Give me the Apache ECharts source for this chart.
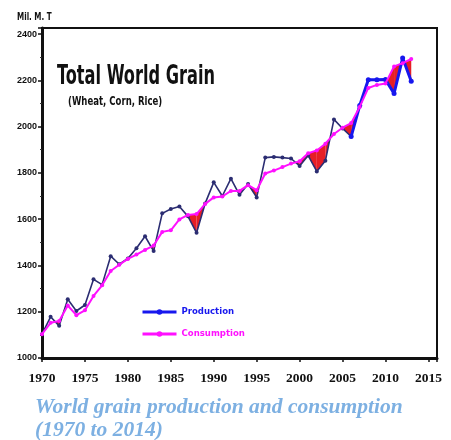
<!DOCTYPE html>
<html>
<head>
<meta charset="utf-8">
<script src="https://cdn.jsdelivr.net/npm/echarts@6/dist/echarts.min.js"></script>
<style>
html,body{margin:0;padding:0;background:#fff;}
#chart{width:451px;height:440px;}
</style>
</head>
<body>
<div id="chart"></div>
<script>
const years = [1970,1971,1972,1973,1974,1975,1976,1977,1978,1979,1980,1981,1982,1983,1984,1985,1986,1987,1988,1989,1990,1991,1992,1993,1994,1995,1996,1997,1998,1999,2000,2001,2002,2003,2004,2005,2006,2007,2008,2009,2010,2011,2012,2013];
const production = [1103,1178,1139,1254,1203,1229,1340,1317,1440,1405,1430,1474,1526,1462,1625,1644,1655,1612,1541,1668,1759,1700,1775,1705,1752,1694,1866,1869,1866,1862,1830,1875,1806,1852,2031,1992,1957,2091,2202,2202,2203,2143,2296,2196];
const consumption = [1103,1152,1160,1227,1185,1206,1268,1314,1376,1403,1428,1447,1467,1486,1545,1552,1599,1618,1622,1666,1694,1698,1722,1722,1747,1725,1797,1810,1825,1840,1850,1885,1897,1926,1968,1995,2015,2085,2167,2180,2186,2260,2274,2292];
const xTicks = [1970,1975,1980,1985,1990,1995,2000,2005,2010,2015];
const yTicks = [1000,1200,1400,1600,1800,2000,2200,2400];
const splitYear = 2006;

const narrow = '"Liberation Sans Narrow","DejaVu Sans Condensed","Liberation Sans",sans-serif';
const sans = '"Liberation Sans",Arial,sans-serif';
const serif = '"Liberation Serif","DejaVu Serif",serif';

const pairs = arr => years.map((y,i)=>[y, arr[i]]);
const prodEarly = pairs(production).filter(d=>d[0]<=splitYear);
const prodLate = pairs(production).filter(d=>d[0]>=splitYear);
const fillData = years.slice(0,-1).map((y,i)=>[y, production[i], consumption[i], years[i+1], production[i+1], consumption[i+1]]);

const chart = echarts.init(document.getElementById('chart'), null, {renderer:'canvas'});
chart.setOption({
  animation:false,
  backgroundColor:'#fff',
  grid:{left:42, right:14, top:28, bottom:82, show:true, borderColor:'#111', borderWidth:2, backgroundColor:'transparent'},
  xAxis:{
    type:'value', min:1970, max:2016, interval:5,
    axisLine:{show:true, onZero:false, lineStyle:{color:'#111', width:3}},
    axisTick:{show:true, inside:false, length:4, lineStyle:{color:'#111', width:1.5}},
    splitLine:{show:false},
    axisLabel:{
      margin:14, color:'#111', fontFamily:serif, fontWeight:'bold', fontSize:13.5,
      formatter: v => xTicks.indexOf(v) >= 0 ? String(v) : ''
    }
  },
  yAxis:{
    type:'value', min:1000, max:2426, interval:200,
    axisLine:{show:true, lineStyle:{color:'#111', width:3}},
    axisTick:{show:true, length:4, lineStyle:{color:'#111', width:1.5}},
    minorTick:{show:true, splitNumber:2, length:2, lineStyle:{color:'#333'}},
    splitLine:{show:false},
    axisLabel:{
      margin:5, color:'#111', fontFamily:sans, fontWeight:'bold', fontSize:9,
      formatter: v => yTicks.indexOf(v) >= 0 ? String(v) : ''
    }
  },
  legend:{
    orient:'vertical', left:136, top:302, itemWidth:34, itemHeight:7, itemGap:12,
    textStyle:{fontFamily:narrow, fontWeight:'bold', fontSize:9.5},
    data:[
      {name:'Production', itemStyle:{color:'#1717ee'}, lineStyle:{color:'#1717ee', width:3}, textStyle:{color:'#1717ee'}},
      {name:'Consumption', itemStyle:{color:'#ff10ff'}, lineStyle:{color:'#ff10ff', width:3}, textStyle:{color:'#ff10ff'}}
    ]
  },
  graphic:[
    {type:'text', x:17, y:12, scaleY:1.25, style:{text:'Mil. M. T', font:'bold 8px '+narrow, fill:'#111'}},
    {type:'text', x:57, y:64, scaleY:1.45, style:{text:'Total World Grain', font:'bold 18px '+narrow, fill:'#111'}},
    {type:'text', x:68, y:96, scaleY:1.25, style:{text:'(Wheat, Corn, Rice)', font:'bold 9.5px '+narrow, fill:'#111'}},
    {type:'text', x:35, y:396, style:{text:'World grain production and consumption\n(1970 to 2014)', font:'italic bold 21.5px '+serif, fill:'#7db0e2', lineHeight:23}}
  ],
  series:[
    {
      type:'custom', name:'gap', silent:true, z:1,
      encode:{x:[0,3], y:[1,2,4,5]},
      data:fillData,
      renderItem:function(params, api){
        const x0=api.value(0), p0=api.value(1), c0=api.value(2);
        const x1=api.value(3), p1=api.value(4), c1=api.value(5);
        const d0=c0-p0, d1=c1-p1;
        if (d0<=0 && d1<=0) return {type:'group', children:[]};
        let pts;
        if (d0>0 && d1>0) {
          pts=[[x0,p0],[x1,p1],[x1,c1],[x0,c0]];
        } else {
          const t=d0/(d0-d1);
          const xc=x0+t*(x1-x0), yc=p0+t*(p1-p0);
          pts = d0>0 ? [[x0,p0],[xc,yc],[x0,c0]] : [[xc,yc],[x1,p1],[x1,c1]];
        }
        return {type:'polygon', shape:{points:pts.map(p=>api.coord(p))}, style:{fill:'#e61e25'}};
      }
    },
    {
      type:'line', name:'Production', data:prodEarly, z:3,
      symbol:'circle', symbolSize:4, showSymbol:true,
      lineStyle:{color:'#2b2d72', width:1.6},
      itemStyle:{color:'#2b2d72'}
    },
    {
      type:'line', name:'Production', data:prodLate, z:3,
      symbol:'circle', symbolSize:5, showSymbol:true,
      lineStyle:{color:'#1717ee', width:3},
      itemStyle:{color:'#1717ee'}
    },
    {
      type:'line', name:'Consumption', data:pairs(consumption), z:4,
      symbol:'circle', symbolSize:4, showSymbol:true,
      lineStyle:{color:'#ff10ff', width:2},
      itemStyle:{color:'#ff10ff'}
    }
  ]
});
</script>
</body>
</html>
